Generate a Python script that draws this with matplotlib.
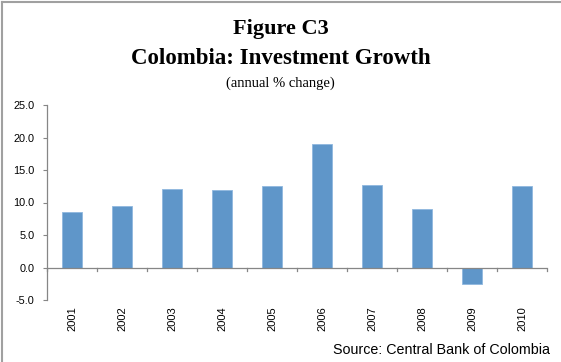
import matplotlib
matplotlib.use("Agg")
import matplotlib.pyplot as plt
from matplotlib.lines import Line2D

years = ["2001", "2002", "2003", "2004", "2005", "2006", "2007", "2008", "2009", "2010"]
growth = [8.6, 9.4, 12.1, 12.0, 12.5, 19.0, 12.7, 9.0, -2.6, 12.5]
yticks = [-5.0, 0.0, 5.0, 10.0, 15.0, 20.0, 25.0]

W, H = 561, 362
fig = plt.figure(figsize=(W / 100, H / 100), dpi=100)
fig.patch.set_facecolor("white")

ax = fig.add_axes([47 / W, 1 - 300 / H, 500 / W, 195 / H])
x = list(range(len(years)))
ax.bar(x, growth, width=0.4, color="#5f96c9", edgecolor="#8fb8df", linewidth=0.6, zorder=2)
ax.set_xlim(-0.5, len(years) - 0.5)
ax.set_ylim(-5, 25)
ax.set_yticks(yticks)
ax.set_yticklabels([f"{v:.1f}" for v in yticks], fontsize=7.8, family="Liberation Sans")
ax.tick_params(axis="y", direction="out", length=3, color="#868686", pad=6)
for s in ["top", "right", "bottom"]:
    ax.spines[s].set_visible(False)
ax.spines["left"].set_color("#868686")
ax.spines["left"].set_linewidth(0.9)
ax.set_xticks([])
# zero line acting as category axis
ax.axhline(0, color="#868686", linewidth=0.9, zorder=3)
for i in range(len(years) + 1):
    ax.plot([i - 0.5, i - 0.5], [0, -0.5], color="#868686", linewidth=0.9, clip_on=False, zorder=3)
for i, yr in enumerate(years):
    ax.text(i, -7.85, yr, rotation=90, ha="center", va="center", fontsize=8,
            family="Liberation Sans", color="black")

fig.text(0.5, 1 - 29 / H, "Figure C3", ha="center", va="center", fontsize=16,
         fontweight="bold", family="Liberation Serif")
fig.text(0.5, 1 - 59 / H, "Colombia: Investment Growth", ha="center", va="center", fontsize=16.5,
         fontweight="bold", family="Liberation Serif")
fig.text(0.5, 1 - 83 / H, "(annual % change)", ha="center", va="center", fontsize=10.5,
         family="Liberation Serif")
fig.text(550 / W, 1 - 350 / H, "Source: Central Bank of Colombia", ha="right", va="center",
         fontsize=10.3, family="Liberation Sans")

# figure border (top and left)
fig.add_artist(Line2D([2 / W, 2 / W], [0, 1 - 2 / H], transform=fig.transFigure, color="#a0a0a0", linewidth=1.5))
fig.add_artist(Line2D([2 / W, 1], [1 - 2 / H, 1 - 2 / H], transform=fig.transFigure, color="#a0a0a0", linewidth=1.5))

fig.savefig("out.png", dpi=100)
